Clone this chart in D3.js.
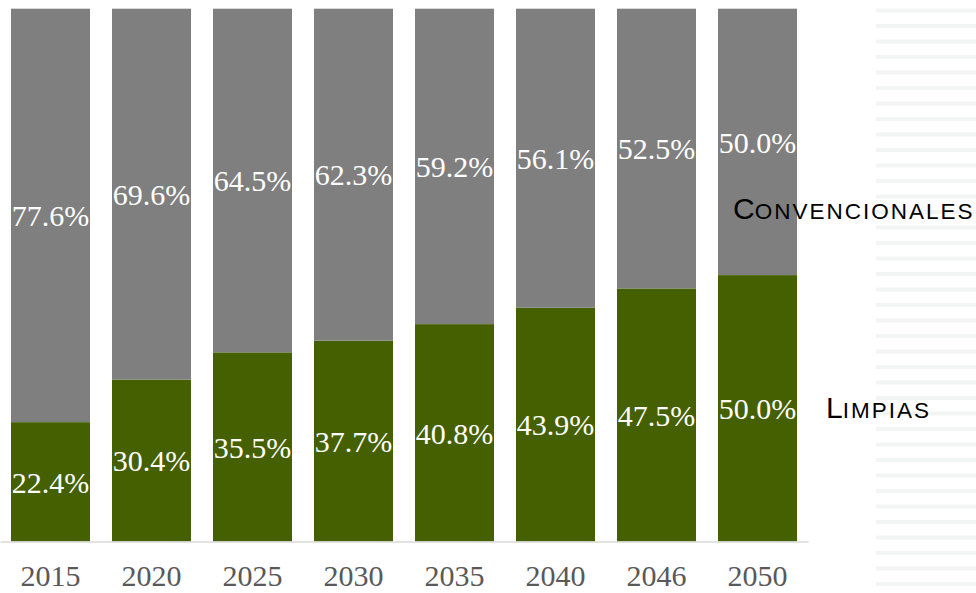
<!DOCTYPE html>
<html>
<head>
<meta charset="utf-8">
<script src="https://cdn.jsdelivr.net/npm/d3@7"></script>
<style>
  body { margin: 0; background: #fff; }
  svg { display: block; }
</style>
</head>
<body>
<div id="chart"></div>
<script>
const years = ['2015', '2020', '2025', '2030', '2035', '2040', '2046', '2050'];
const limpias = [22.4, 30.4, 35.5, 37.7, 40.8, 43.9, 47.5, 50.0];
const convencionales = [77.6, 69.6, 64.5, 62.3, 59.2, 56.1, 52.5, 50.0];
const seriesNames = ['Limpias', 'Convencionales'];
const seriesColors = ['#456000', '#7f7f7f'];

const W = 976, H = 593;
const svg = d3.select('#chart').append('svg')
  .attr('width', W)
  .attr('height', H);

// decorative striped band on the right
const stripes = svg.append('g');
d3.range(8.5, H, 15.5).forEach(y => {
  stripes.append('rect')
    .attr('x', 876).attr('y', y)
    .attr('width', 100).attr('height', 4)
    .attr('fill', '#f3f4f4');
});

const x = d3.scaleBand()
  .domain(years)
  .range([0, 808])
  .paddingInner(0.218)
  .paddingOuter(0.109);

const y = d3.scaleLinear()
  .domain([0, 100])
  .range([541.5, 8.7]);

// build stack rows
const rows = years.map((yr, i) => ({ year: yr, Limpias: limpias[i], Convencionales: convencionales[i] }));
const stacked = d3.stack().keys(seriesNames)(rows);

const g = svg.append('g');
stacked.forEach((layer, li) => {
  g.selectAll(null)
    .data(layer)
    .enter()
    .append('rect')
    .attr('x', d => x(d.data.year))
    .attr('y', d => y(d[1]))
    .attr('width', x.bandwidth())
    .attr('height', d => y(d[0]) - y(d[1]))
    .attr('fill', seriesColors[li]);

  g.selectAll(null)
    .data(layer)
    .enter()
    .append('text')
    .attr('x', d => x(d.data.year) + x.bandwidth() / 2)
    .attr('y', d => (y(d[0]) + y(d[1])) / 2)
    .attr('dy', '0.36em')
    .attr('text-anchor', 'middle')
    .style('font-family', '"Liberation Serif", "Times New Roman", serif')
    .style('font-size', '30px')
    .attr('fill', '#fff')
    .text(d => (d[1] - d[0]).toFixed(1) + '%');
});

// x axis
const axis = svg.append('g')
  .attr('transform', 'translate(0,541.5)')
  .call(d3.axisBottom(x).tickSize(0).tickPadding(0));
axis.select('.domain')
  .attr('stroke', '#d9d9d9')
  .attr('stroke-width', 1.5);
axis.selectAll('text')
  .attr('y', 44.5)
  .attr('dy', 0)
  .style('font-family', '"Liberation Serif", "Times New Roman", serif')
  .style('font-size', '30px')
  .attr('fill', '#595959');

// series labels in small caps
function smallCaps(label, px, py) {
  const t = svg.append('text')
    .attr('x', px).attr('y', py)
    .style('font-family', '"Liberation Sans", Arial, sans-serif')
    .attr('fill', '#000');
  t.append('tspan').style('font-size', '30px').text(label[0].toUpperCase());
  t.append('tspan').style('font-size', '22.5px').style('letter-spacing', '2px')
    .text(label.slice(1).toUpperCase());
}
smallCaps(seriesNames[1], 733, 219);
smallCaps(seriesNames[0], 826, 418);
</script>
</body>
</html>
